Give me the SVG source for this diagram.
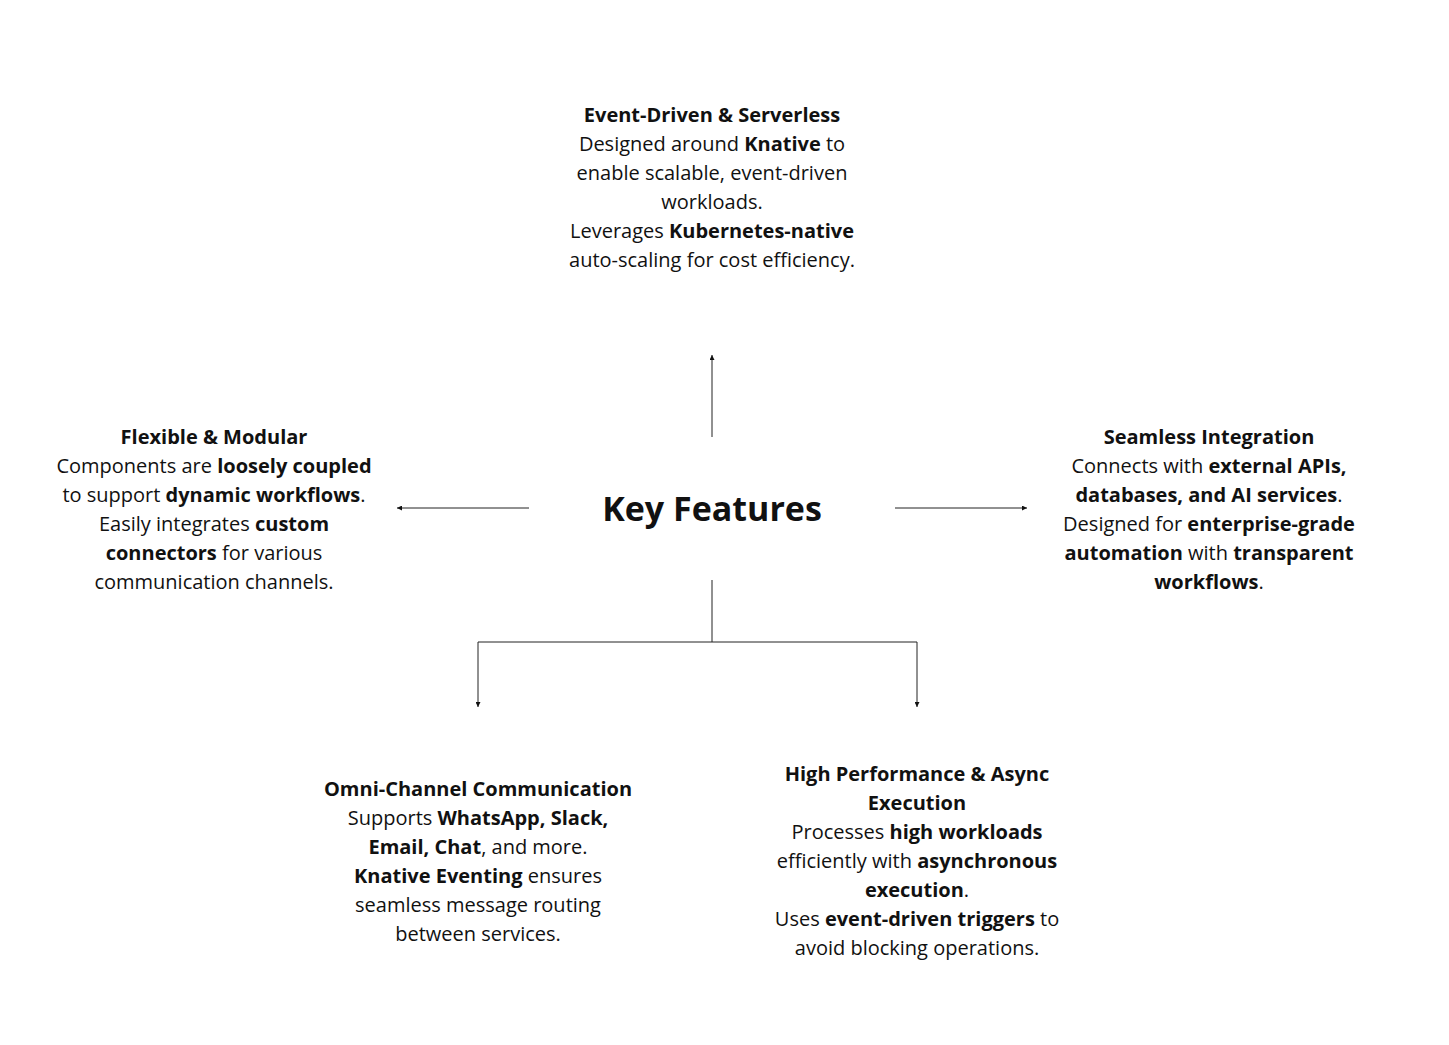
<svg xmlns="http://www.w3.org/2000/svg" width="1449" height="1045" viewBox="0 0 1449 1045">
<style>
text{font-family:"Open Sans","Noto Sans",sans-serif;font-size:20px;fill:#111;text-anchor:middle}
.b{font-weight:bold}
.t{font-size:34px;font-weight:bold}
.c{stroke:#222;stroke-width:1;fill:none}
</style>
<defs><marker id="a" viewBox="0 0 6 6" refX="6" refY="3" markerWidth="5" markerHeight="5" orient="auto"><path d="M0,0L6,3L0,6z" fill="#111"/></marker></defs>
<rect width="1449" height="1045" fill="#fff"/>
<g id="connectors">
<path class="c" d="M712,437V355" marker-end="url(#a)"/>
<path class="c" d="M529,508H397" marker-end="url(#a)"/>
<path class="c" d="M895,508H1027" marker-end="url(#a)"/>
<path class="c" d="M712,580V642H478V707" marker-end="url(#a)"/>
<path class="c" d="M712,642H917V707" marker-end="url(#a)"/>
</g>
<g id="center"><text class="t" x="712" y="521">Key Features</text></g>
<g id="top">
<text x="712" y="122" class="b">Event-Driven &amp; Serverless</text>
<text x="712" y="151">Designed around <tspan class="b">Knative</tspan> to</text>
<text x="712" y="180">enable scalable, event-driven</text>
<text x="712" y="209">workloads.</text>
<text x="712" y="238"> Leverages <tspan class="b">Kubernetes-native</tspan></text>
<text x="712" y="267">auto-scaling for cost efficiency.</text>
</g>
<g id="left">
<text x="214" y="444" class="b">Flexible &amp; Modular</text>
<text x="214" y="473">Components are <tspan class="b">loosely coupled</tspan></text>
<text x="214" y="502">to support <tspan class="b">dynamic workflows</tspan>.</text>
<text x="214" y="531">Easily integrates <tspan class="b">custom</tspan></text>
<text x="214" y="560"><tspan class="b">connectors</tspan> for various</text>
<text x="214" y="589">communication channels.</text>
</g>
<g id="right">
<text x="1209" y="444" class="b">Seamless Integration</text>
<text x="1209" y="473">Connects with <tspan class="b">external APIs,</tspan></text>
<text x="1209" y="502"><tspan class="b">databases, and AI services</tspan>.</text>
<text x="1209" y="531">Designed for <tspan class="b">enterprise-grade</tspan></text>
<text x="1209" y="560"><tspan class="b">automation</tspan> with <tspan class="b">transparent</tspan></text>
<text x="1209" y="589"><tspan class="b">workflows</tspan>.</text>
</g>
<g id="bottomleft">
<text x="478" y="796" class="b">Omni-Channel Communication</text>
<text x="478" y="825">Supports <tspan class="b">WhatsApp, Slack,</tspan></text>
<text x="478" y="854"><tspan class="b">Email, Chat</tspan>, and more.</text>
<text x="478" y="883"><tspan class="b">Knative Eventing</tspan> ensures</text>
<text x="478" y="912">seamless message routing</text>
<text x="478" y="941">between services.</text>
</g>
<g id="bottomright">
<text x="917" y="781" class="b">High Performance &amp; Async</text>
<text x="917" y="810" class="b">Execution</text>
<text x="917" y="839">Processes <tspan class="b">high workloads</tspan></text>
<text x="917" y="868">efficiently with <tspan class="b">asynchronous</tspan></text>
<text x="917" y="897"><tspan class="b">execution</tspan>.</text>
<text x="917" y="926">Uses <tspan class="b">event-driven triggers</tspan> to</text>
<text x="917" y="955">avoid blocking operations.</text>
</g>
</svg>
